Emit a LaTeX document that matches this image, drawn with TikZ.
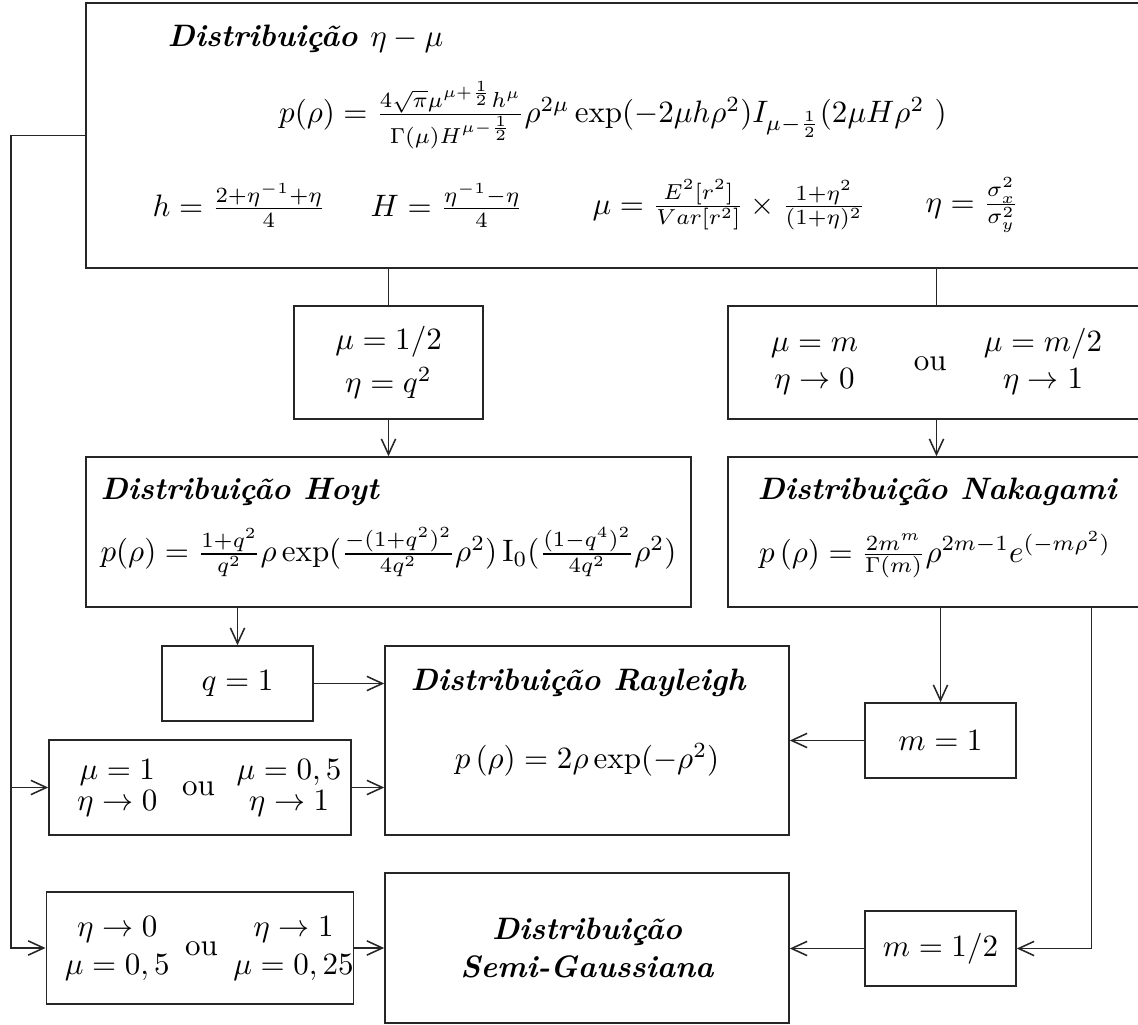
\documentclass[tikz,border=0pt]{standalone}
\usepackage{amsmath,amssymb}
\usetikzlibrary{arrows.meta}
\newcommand{\px}{0.3226pt}

\begin{document}
\begin{tikzpicture}[x=\px, y=-\px,
    caixa/.style 2 args={draw=black!85, line width=0.5pt, inner sep=0pt,
      minimum width=#1*\px, minimum height=#2*\px},
    rotulo/.style={inner sep=0pt},
    titulo/.style={inner sep=0pt, font=\bfseries\itshape},
    liga/.style={draw=black!85, line width=0.5pt},
    >={Straight Barb[length=5pt,width=4.6pt]}
  ]
  \useasboundingbox (0,0) rectangle (1138,1025);
  \clip (0,0) rectangle (1138,1025);

  % eta-mu
  \node[caixa={1064}{265}] (etamu) at (618,135.5) {};
  \node[titulo, anchor=base west] (etamutit) at (167,47)
    {Distribuição $\eta-\mu$};
  \node[rotulo] (etamupdf) at (613,115)
    {$p(\rho)=\frac{4\sqrt{\pi}\mu^{\mu+\frac{1}{2}}h^{\mu}}{\Gamma(\mu)H^{\mu-\frac{1}{2}}}\rho^{2\mu}\exp(-2\mu h\rho^2)I_{\mu-\frac{1}{2}}(2\mu H\rho^2\ )$};
  \node[rotulo, anchor=west] (hdef) at (152,205) {$h=\frac{2+\eta^{-1}+\eta}{4}$};
  \node[rotulo, anchor=west] (Hdef) at (370,205) {$H=\frac{\eta^{-1}-\eta}{4}$};
  \node[rotulo, anchor=west] (mudef) at (592,205)
    {$\mu=\frac{E^2[r^2]}{Var[r^2]}\times\frac{1+\eta^2}{(1+\eta)^2}$};
  \node[rotulo, anchor=west] (etadef) at (925,205) {$\eta=\frac{\sigma_x^2}{\sigma_y^2}$};

  % conditions
  \node[caixa={189}{113}, align=center] (hoytcond) at (388.5,362.5)
    {$\mu=1/2$\\[2pt]$\eta=q^2$};
  \node[caixa={417}{113}] (nakacond) at (936.5,362.5)
    {$\begin{array}{@{}c@{}}\mu=m\\ \eta\to0\end{array}$\hspace{18pt}ou\hspace{12pt}$\begin{array}{@{}c@{}}\mu=m/2\\ \eta\to1\end{array}$};

  % Hoyt and Nakagami
  \node[caixa={605}{150}] (hoyt) at (388.5,532) {};
  \node[titulo, anchor=west] (hoyttit) at (100,492) {Distribuição Hoyt};
  \node[rotulo] (hoytpdf) at (388.5,552)
    {$p(\rho)=\frac{1+q^2}{q^2}\rho\exp(\frac{-(1+q^2)^2}{4q^2}\rho^2)\,\mathrm{I}_0(\frac{(1-q^4)^2}{4q^2}\rho^2)$};
  \node[caixa={417}{150}] (naka) at (936.5,532) {};
  \node[titulo] (nakatit) at (937,492) {Distribuição Nakagami};
  \node[rotulo] (nakapdf) at (935,555)
    {$p\left(\rho\right)=\frac{2m^m}{\Gamma(m)}\rho^{2m-1}e^{(-m\rho^2)}$};

  % Rayleigh
  \node[caixa={151}{75}] (q1) at (237.5,683.5) {$q=1$};
  \node[caixa={404}{189}] (ray) at (587,740.5) {};
  \node[titulo, anchor=west] (raytit) at (410,683) {Distribuição Rayleigh};
  \node[rotulo] (raypdf) at (587,760) {$p\left(\rho\right)=2\rho\exp(-\rho^2)$};
  \node[caixa={151}{75}] (m1) at (940.5,740.5) {$m=1$};
  \node[caixa={302}{95}] (mu1) at (200,787.5)
    {\hspace{6pt}$\begin{array}{@{}c@{}}\mu=1\\[-2pt]\eta\to0\end{array}$\hspace{8pt}ou\hspace{7pt}$\begin{array}{@{}c@{}}\mu=0,5\\[-2pt]\eta\to1\end{array}$};

  % Semi-Gaussiana
  \node[caixa={302}{112}] (eta0) at (200,948)
    {\hspace{6pt}$\begin{array}{@{}c@{}}\eta\to0\\ \mu=0,5\end{array}$\hspace{5pt}ou\hspace{5pt}$\begin{array}{@{}c@{}}\eta\to1\\ \mu=0,25\end{array}$};
  \node[caixa={404}{150}, titulo, align=center] (semi) at (587,948)
    {Distribuição\\Semi-Gaussiana};
  \node[caixa={151}{75}] (mhalf) at (940.5,948.5) {$m=1/2$};

  \coordinate (esq) at (11,0);
  \coordinate (dir) at (1091.7,0);

  % Arrows
  \draw[liga] (etamu.south -| hoytcond.north) -- (hoytcond.north);
  \draw[liga] (etamu.south -| nakacond.north) -- (nakacond.north);
  \draw[liga,->] (hoytcond.south) -- (hoytcond.south |- hoyt.north);
  \draw[liga,->] (nakacond.south) -- (nakacond.south |- naka.north);
  \draw[liga,->] (hoyt.south -| q1.north) -- (q1.north);
  \draw[liga,->] (naka.south -| m1.north) -- (m1.north);
  \draw[liga,->] (q1.east) -- (q1.east -| ray.west);
  \draw[liga,->] (m1.west) -- (m1.west -| ray.east);
  \draw[liga,->] (mu1.east) -- (mu1.east -| ray.west);
  \draw[liga,->] (eta0.east) -- (eta0.east -| semi.west);
  \draw[liga,->] (mhalf.west) -- (mhalf.west -| semi.east);
  \draw[liga,->] (etamu.west) -- (etamu.west -| esq) |- (eta0.west);
  \draw[liga,->] (esq |- mu1.west) -- (mu1.west);
  \draw[liga,->] (naka.south -| dir) |- (mhalf.east);
\end{tikzpicture}
\end{document}
